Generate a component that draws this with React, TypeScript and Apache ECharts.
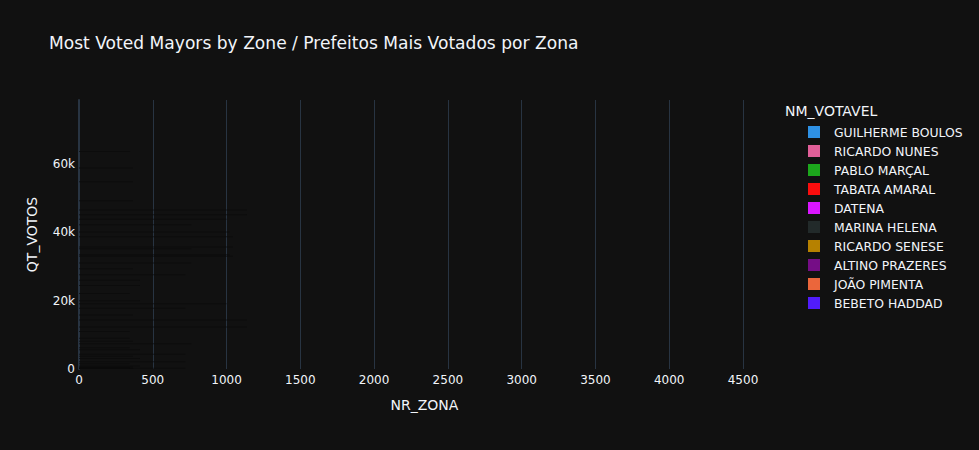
import React, { useEffect, useRef } from "react";
import * as echarts from "echarts";

const candidates = [
  "GUILHERME BOULOS",
  "RICARDO NUNES",
  "PABLO MARÇAL",
  "TABATA AMARAL",
  "DATENA",
  "MARINA HELENA",
  "RICARDO SENESE",
  "ALTINO PRAZERES",
  "JOÃO PIMENTA",
  "BEBETO HADDAD",
];
const colors = [
  "#2E91E5", "#E15F99", "#1CA71C", "#FB0D0D", "#DA16FF",
  "#222A2A", "#B68100", "#750D86", "#EB663B", "#511CFB",
];

// NR_ZONA (bar length) and QT_VOTOS (bar position) per candidate
const boulosZona = [346, 366, 366, 1138, 1138, 1043, 413, 760, 1020];
const boulosVotos = [63600, 58800, 54800, 46500, 45100, 38700, 26000, 35200, 33400];
const nunesZona = [1043, 1043, 760, 413, 1138, 366, 343, 1000, 720];
const nunesVotos = [35700, 33000, 31000, 20000, 14300, 49200, 9000, 43800, 27600];
const marcalZona = [760, 1020, 413, 366, 720, 1138, 343];
const marcalVotos = [42200, 40100, 24400, 29300, 17800, 12300, 22100];
const tabataZona = [366, 343, 760, 413, 1000];
const tabataVotos = [15800, 11000, 7400, 5600, 19100];
const datenaZona = [343, 720, 366, 413];
const datenaVotos = [6200, 4300, 8100, 3100];
const marinaZona = [720, 343, 366];
const marinaVotos = [2100, 1500, 3700];
const seneseZona = [413, 366];
const seneseVotos = [900, 600];
const altinoZona = [343, 720];
const altinoVotos = [400, 250];
const pimentaZona = [366];
const pimentaVotos = [180];
const bebetoZona = [343];
const bebetoVotos = [120];

const zonas = [boulosZona, nunesZona, marcalZona, tabataZona, datenaZona, marinaZona, seneseZona, altinoZona, pimentaZona, bebetoZona];
const votos = [boulosVotos, nunesVotos, marcalVotos, tabataVotos, datenaVotos, marinaVotos, seneseVotos, altinoVotos, pimentaVotos, bebetoVotos];

const xTickStep = 500;
const yTickStep = 20000;

const FONT = "'DejaVu Sans', sans-serif";
const TXT = "#f2f5fa";

export default function App() {
  const ref = useRef<HTMLDivElement>(null);
  useEffect(() => {
    if (!ref.current) return;
    const chart = echarts.init(ref.current, undefined, { renderer: "svg" });
    const series = candidates.map((name, i) => ({
      type: "custom",
      name,
      itemStyle: { color: colors[i] },
      encode: { x: 0, y: 1 },
      data: zonas[i].map((z, j) => [z, votos[i][j]]),
      renderItem: (params: any, api: any) => {
        const x = api.value(0);
        const y = api.value(1);
        const p0 = api.coord([0, y]);
        const p1 = api.coord([x, y]);
        return {
          type: "rect",
          shape: { x: p0[0], y: p0[1] - 0.5, width: p1[0] - p0[0], height: 1 },
          style: { fill: "#0a0a0a", opacity: 0.7 },
        };
      },
    }));
    chart.setOption({
      animation: false,
      backgroundColor: "#111111",
      textStyle: { fontFamily: FONT },
      title: [
        {
          text: "Most Voted Mayors by Zone / Prefeitos Mais Votados por Zona",
          left: 49,
          top: 34,
          padding: 0,
          textStyle: { color: TXT, fontSize: 17.1, fontWeight: "normal", fontFamily: FONT },
        },
        {
          text: "NM_VOTAVEL",
          left: 785,
          top: 104,
          padding: 0,
          textStyle: { color: TXT, fontSize: 14, fontWeight: "normal", fontFamily: FONT },
        },
      ],
      legend: {
        orient: "vertical",
        left: 808,
        top: 126,
        padding: 0,
        itemWidth: 12,
        itemHeight: 12,
        itemGap: 7,
        icon: "rect",
        textStyle: { color: TXT, fontSize: 12.4, fontFamily: FONT, padding: [0, 0, 0, 9] },
        data: candidates,
      },
      grid: { left: 79, right: 209, top: 100, bottom: 81, containLabel: false },
      xAxis: {
        type: "value",
        min: 0,
        max: 4683,
        interval: xTickStep,
        name: "NR_ZONA",
        nameLocation: "middle",
        nameGap: 29,
        nameTextStyle: { color: TXT, fontSize: 14, fontFamily: FONT },
        axisLine: { show: false },
        axisTick: { show: false },
        axisLabel: {
          color: TXT,
          fontSize: 12,
          margin: 5,
          fontFamily: FONT,
          showMaxLabel: false,
          formatter: (v: number) => String(v),
        },
        splitLine: { show: true, showMaxLine: false, lineStyle: { color: "#283442", width: 1 } },
      },
      yAxis: {
        type: "value",
        min: 0,
        max: 78700,
        interval: yTickStep,
        name: "QT_VOTOS",
        nameLocation: "middle",
        nameGap: 40,
        nameTextStyle: { color: TXT, fontSize: 14, fontFamily: FONT },
        axisLine: { show: true, lineStyle: { color: "#283442", width: 2 } },
        axisTick: { show: false },
        axisLabel: {
          color: TXT,
          fontSize: 12,
          margin: 4,
          fontFamily: FONT,
          showMaxLabel: false,
          formatter: (v: number) => (v === 0 ? "0" : v / 1000 + "k"),
        },
        splitLine: { show: false },
      },
      series,
    });
    return () => chart.dispose();
  }, []);
  return (
    <div
      ref={ref}
      style={{ position: "fixed", left: 0, top: 0, width: 979, height: 450 }}
    />
  );
}
